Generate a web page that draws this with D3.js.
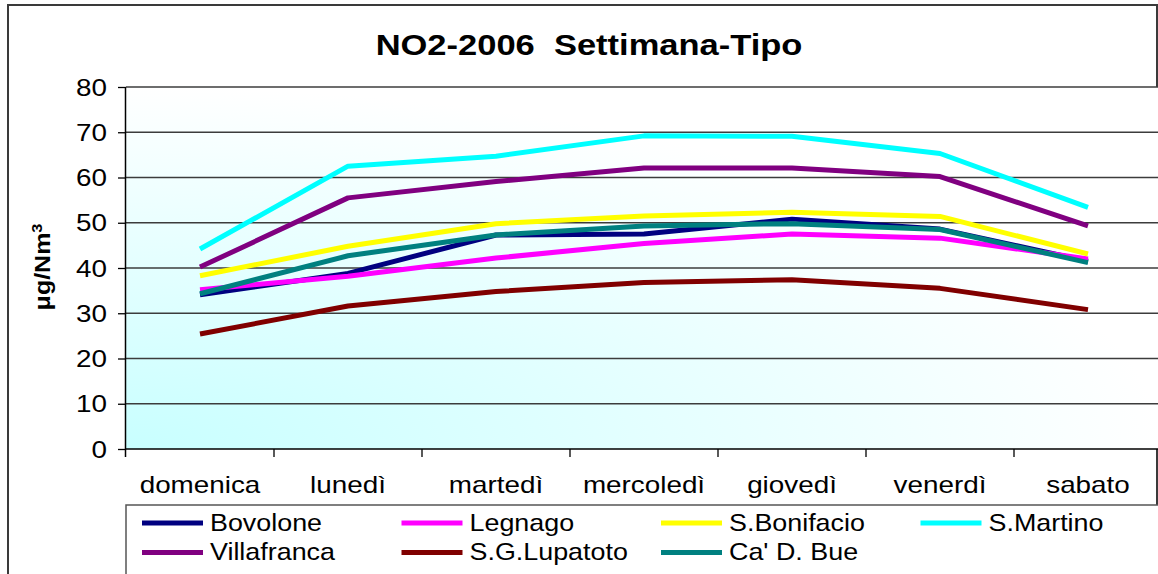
<!DOCTYPE html>
<html>
<head>
<meta charset="utf-8">
<script src="https://cdn.jsdelivr.net/npm/d3@7"></script>
<style>
  body { margin: 0; background: #fff; }
  text { font-family: "Liberation Sans", Arial, sans-serif; white-space: pre; }
</style>
</head>
<body>
<svg id="chart" width="1158" height="574"></svg>
<script>

// data
var days = ["domenica", "lunedì", "martedì", "mercoledì", "giovedì", "venerdì", "sabato"];
var stations = ["Bovolone", "Legnago", "S.Bonifacio", "S.Martino", "Villafranca", "S.G.Lupatoto", "Ca' D. Bue"];
var colors = ["#000080", "#ff00ff", "#ffff00", "#00ffff", "#800080", "#800000", "#008080"];
var bovolone = [34.1, 38.8, 47.3, 47.5, 50.8, 48.6, 41.5];
var legnago = [35.2, 38.2, 42.2, 45.4, 47.5, 46.6, 42.0];
var bonifacio = [38.3, 44.8, 49.8, 51.5, 52.3, 51.4, 43.1];
var martino = [44.2, 62.5, 64.7, 69.2, 69.1, 65.3, 53.4];
var villafranca = [40.2, 55.5, 59.1, 62.1, 62.1, 60.2, 49.3];
var lupatoto = [25.4, 31.6, 34.8, 36.8, 37.4, 35.5, 30.8];
var caDBue = [34.3, 42.7, 47.3, 49.3, 49.8, 48.5, 41.2];
var yTicks = [0, 10, 20, 30, 40, 50, 60, 70, 80];

var series = [bovolone, legnago, bonifacio, martino, villafranca, lupatoto, caDBue];

var plot = {left: 126, top: 87, right: 1162, bottom: 449};
var stretch = 1.16; // text in the picture is a bit wide

var svg = d3.select("#chart");

// outer frame
svg.append("rect")
    .attr("x", 8).attr("y", 5)
    .attr("width", 1149).attr("height", 620)
    .attr("fill", "#fff")
    .attr("stroke", "#3a3a3a")
    .attr("stroke-width", 2);

var x = d3.scaleBand().domain(days).range([plot.left, plot.right]);
var y = d3.scaleLinear().domain([0, 80]).range([plot.bottom, plot.top]);

// background gradient, cyan in the lower left corner
var grad = svg.append("defs").append("radialGradient")
    .attr("id", "bg")
    .attr("cx", 0).attr("cy", 1).attr("r", 1)
    .attr("fx", 0).attr("fy", 1);
grad.append("stop").attr("offset", "0%").attr("stop-color", "#c8ffff");
grad.append("stop").attr("offset", "100%").attr("stop-color", "#ffffff");

svg.append("rect")
    .attr("x", plot.left).attr("y", plot.top)
    .attr("width", plot.right - plot.left).attr("height", plot.bottom - plot.top)
    .attr("fill", "url(#bg)");

// grid lines
svg.append("g").selectAll("line")
    .data(yTicks.slice(1))
  .enter().append("line")
    .attr("x1", plot.left).attr("x2", plot.right)
    .attr("y1", function(d) { return y(d); })
    .attr("y2", function(d) { return y(d); })
    .attr("stroke", "#3c3c3c")
    .attr("stroke-width", 1.3);

// y axis
var yAxis = d3.axisLeft(y).tickValues(yTicks).tickSize(8).tickPadding(0).tickFormat(function(d) { return ""; });
var gy = svg.append("g").attr("transform", "translate(" + plot.left + ",0)").call(yAxis);
gy.select(".domain").attr("stroke", "#000").attr("stroke-width", 1.5).attr("d", "M-0.5," + plot.top + "V" + (plot.bottom + 8));
gy.selectAll(".tick line").attr("stroke", "#000").attr("stroke-width", 1.3);

svg.append("g").selectAll("g")
    .data(yTicks)
  .enter().append("g")
    .attr("transform", function(d) { return "translate(107," + (y(d) + 8.5) + ") scale(" + stretch + ",1)"; })
  .append("text")
    .attr("text-anchor", "end")
    .attr("font-size", 24)
    .text(function(d) { return d; });

// x axis
svg.append("line")
    .attr("x1", plot.left).attr("x2", plot.right)
    .attr("y1", plot.bottom).attr("y2", plot.bottom)
    .attr("stroke", "#000").attr("stroke-width", 1.6);

svg.append("g").selectAll("line")
    .data(days.slice(1))
  .enter().append("line")
    .attr("x1", function(d) { return x(d); })
    .attr("x2", function(d) { return x(d); })
    .attr("y1", plot.bottom).attr("y2", plot.bottom + 8)
    .attr("stroke", "#000").attr("stroke-width", 1.3);

svg.append("g").selectAll("g")
    .data(days)
  .enter().append("g")
    .attr("transform", function(d) { return "translate(" + (x(d) + x.bandwidth() / 2) + ",493) scale(" + stretch + ",1)"; })
  .append("text")
    .attr("text-anchor", "middle")
    .attr("font-size", 24)
    .text(function(d) { return d; });

// lines
var line = d3.line()
    .x(function(d, i) { return x(days[i]) + x.bandwidth() / 2; })
    .y(function(d) { return y(d); });

svg.append("g").selectAll("path")
    .data(series)
  .enter().append("path")
    .attr("d", line)
    .attr("fill", "none")
    .attr("stroke", function(d, i) { return colors[i]; })
    .attr("stroke-width", 5)
    .attr("stroke-linejoin", "round");

// title
svg.append("g")
    .attr("transform", "translate(589,55) scale(1.15,1)")
  .append("text")
    .attr("text-anchor", "middle")
    .attr("font-size", 30)
    .attr("font-weight", "bold")
    .text("NO2-2006  Settimana-Tipo");

// y label
var yl = svg.append("g")
    .attr("transform", "translate(50,267) scale(1.13,1.25) rotate(-90)")
  .append("text")
    .attr("text-anchor", "middle")
    .attr("font-size", 20)
    .attr("font-weight", "bold");
yl.append("tspan").text("μg/Nm");
yl.append("tspan").attr("baseline-shift", "super").attr("font-size", 13).text("3");

// legend
svg.append("rect")
    .attr("x", plot.left).attr("y", 505)
    .attr("width", 1100).attr("height", 200)
    .attr("fill", "#fff")
    .attr("stroke", "#555")
    .attr("stroke-width", 1.5);

var items = svg.append("g").selectAll("g")
    .data(stations)
  .enter().append("g")
    .attr("transform", function(d, i) { return "translate(" + (142 + (i % 4) * 259.5) + "," + (523 + Math.floor(i / 4) * 29.5) + ")"; });

items.append("line")
    .attr("x1", 0).attr("x2", 61)
    .attr("stroke", function(d, i) { return colors[i]; })
    .attr("stroke-width", 5);

items.append("g")
    .attr("transform", "translate(68,7.5) scale(1.12,1)")
  .append("text")
    .attr("font-size", 24)
    .text(function(d) { return d; });

</script>
</body>
</html>
